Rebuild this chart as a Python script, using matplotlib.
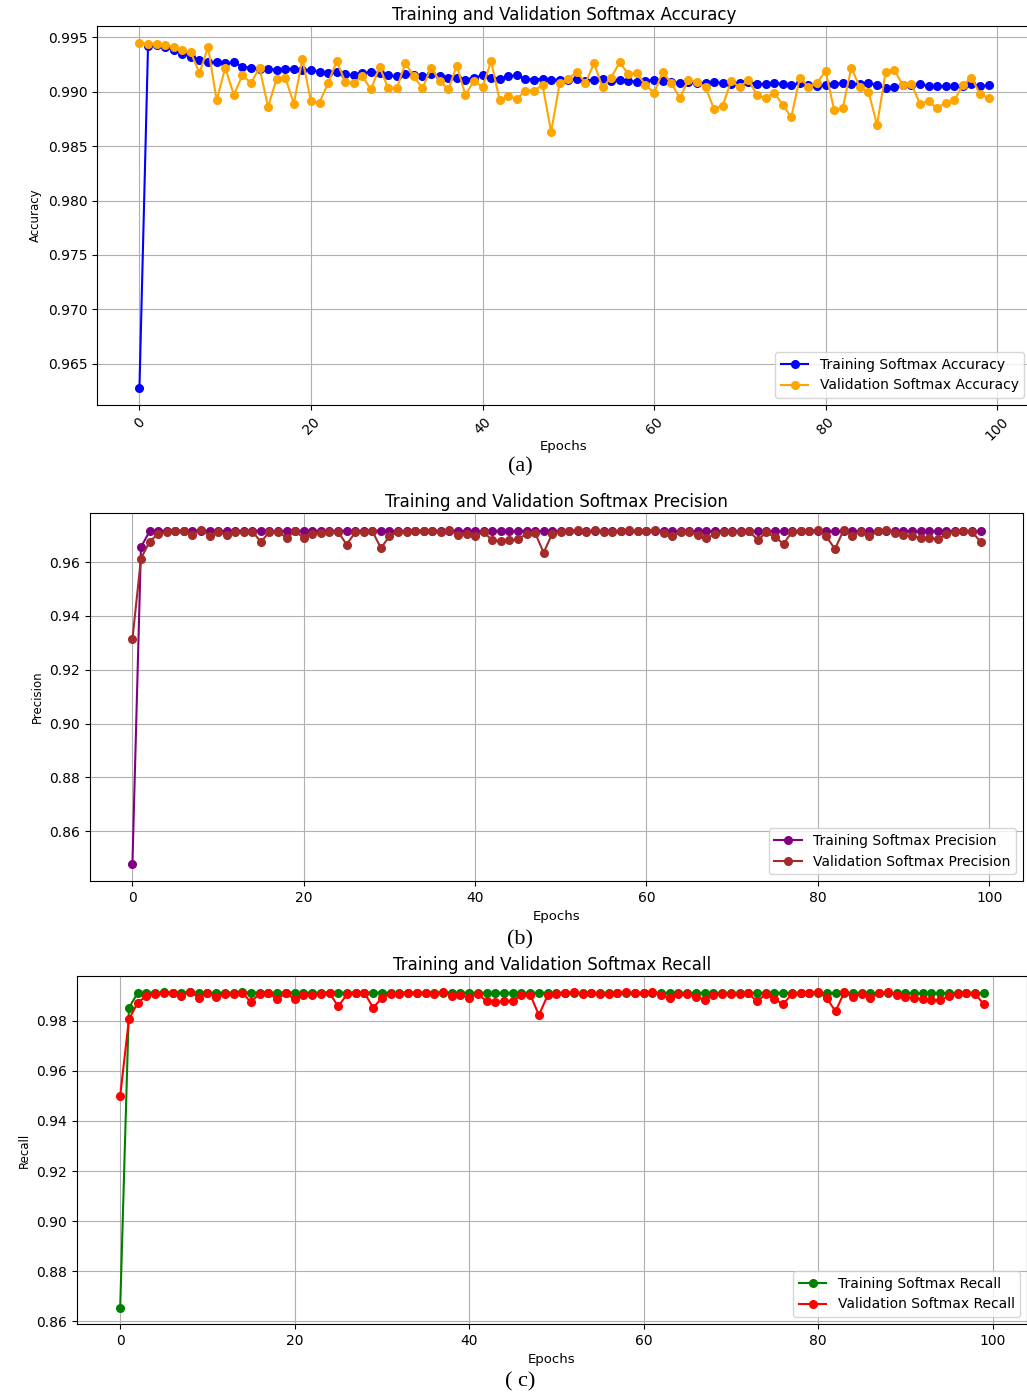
import numpy as np
import matplotlib
matplotlib.use("Agg")
import matplotlib.pyplot as plt

plt.rcParams.update({
    "font.family": "DejaVu Sans",
    "font.size": 10,
})

epochs = np.arange(100)

# Accuracy (a)
train_acc = [
    0.9628, 0.9942, 0.9943, 0.9941, 0.9938, 0.9935, 0.9932, 0.9929, 0.9927, 0.9927,
    0.9926, 0.9927, 0.9923, 0.9922, 0.9921, 0.9921, 0.9920, 0.9921, 0.9921, 0.9920,
    0.9920, 0.9918, 0.9917, 0.9918, 0.9916, 0.9915, 0.9917, 0.9918, 0.9917, 0.9915,
    0.9914, 0.9916, 0.9915, 0.9914, 0.9916, 0.9914, 0.9913, 0.9913, 0.9911, 0.9913,
    0.9915, 0.9913, 0.9912, 0.9914, 0.9915, 0.9912, 0.9911, 0.9912, 0.9911, 0.9911,
    0.9911, 0.9912, 0.9910, 0.9911, 0.9912, 0.9910, 0.9911, 0.9910, 0.9909, 0.9910,
    0.9911, 0.9910, 0.9909, 0.9908, 0.9909, 0.9908, 0.9908, 0.9909, 0.9908, 0.9907,
    0.9908, 0.9909, 0.9907, 0.9907, 0.9908, 0.9907, 0.9906, 0.9908, 0.9906, 0.9905,
    0.9906, 0.9907, 0.9908, 0.9907, 0.9907, 0.9908, 0.9906, 0.9903, 0.9904, 0.9906,
    0.9906, 0.9907, 0.9905, 0.9905, 0.9905, 0.9905, 0.9905, 0.9907, 0.9905, 0.9906,
]
val_acc = [
    0.99445, 0.9944, 0.9944, 0.9943, 0.9941, 0.9938, 0.9936, 0.9917, 0.9941, 0.9892,
    0.9922, 0.9897, 0.9915, 0.9908, 0.9922, 0.9886, 0.9912, 0.9913, 0.9889, 0.9930,
    0.9891, 0.9890, 0.9908, 0.9928, 0.9909, 0.9908, 0.9914, 0.9902, 0.9923, 0.9903,
    0.9903, 0.9926, 0.9914, 0.9903, 0.9922, 0.9910, 0.9902, 0.9924, 0.9897, 0.9910,
    0.9904, 0.9928, 0.9892, 0.9896, 0.9893, 0.9901, 0.9901, 0.9906, 0.9863, 0.9908,
    0.9912, 0.9918, 0.9908, 0.9926, 0.9904, 0.9913, 0.9927, 0.9916, 0.9917, 0.9906,
    0.9899, 0.9918, 0.9908, 0.9894, 0.9911, 0.9909, 0.9904, 0.9884, 0.9887, 0.9910,
    0.9904, 0.9911, 0.9897, 0.9894, 0.9899, 0.9888, 0.98765, 0.9913, 0.9904, 0.9908,
    0.9919, 0.9883, 0.9885, 0.9922, 0.9904, 0.9900, 0.98694, 0.9918, 0.9920, 0.9906,
    0.9907, 0.9889, 0.9891, 0.9885, 0.9890, 0.9892, 0.9906, 0.9913, 0.9898, 0.9894,
]

# Precision (b)
train_prec = [
    0.8477, 0.9655, 0.9714, 0.9716, 0.9716, 0.9717, 0.9716, 0.9716, 0.9717, 0.9716,
    0.9716, 0.9715, 0.9716, 0.9716, 0.9717, 0.9716, 0.9716, 0.9715, 0.9716, 0.9716,
    0.9716, 0.9716, 0.9715, 0.9716, 0.9716, 0.9716, 0.9715, 0.9716, 0.9716, 0.9716,
    0.9716, 0.9715, 0.9716, 0.9716, 0.9716, 0.9715, 0.9716, 0.9716, 0.9716, 0.9715,
    0.9716, 0.9715, 0.9715, 0.9716, 0.9715, 0.9715, 0.9716, 0.9715, 0.9715, 0.9715,
    0.9715, 0.9716, 0.9715, 0.9715, 0.9715, 0.9716, 0.9715, 0.9715, 0.9715, 0.9715,
    0.9715, 0.9716, 0.9715, 0.9715, 0.9715, 0.9715, 0.9714, 0.9715, 0.9715, 0.9715,
    0.9715, 0.9715, 0.9714, 0.9715, 0.9715, 0.9715, 0.9714, 0.9715, 0.9715, 0.9715,
    0.9715, 0.9714, 0.9715, 0.9715, 0.9714, 0.9715, 0.9714, 0.9714, 0.9715, 0.9714,
    0.9714, 0.9714, 0.9714, 0.9714, 0.9714, 0.9714, 0.9714, 0.9715, 0.9714, 0.9714,
]
val_prec = [
    0.9313, 0.9613, 0.9675, 0.9705, 0.9712, 0.9714, 0.9716, 0.9702, 0.9720, 0.9698,
    0.9712, 0.9700, 0.9710, 0.9711, 0.9713, 0.9675, 0.9712, 0.9713, 0.9690, 0.9714,
    0.9690, 0.9705, 0.9708, 0.9712, 0.9713, 0.9665, 0.9710, 0.9713, 0.9715, 0.9652,
    0.9695, 0.9712, 0.9713, 0.9714, 0.9716, 0.9715, 0.9713, 0.9720, 0.9700, 0.9705,
    0.9696, 0.9712, 0.9680, 0.9678, 0.9680, 0.9684, 0.9705, 0.9708, 0.9635, 0.9705,
    0.9712, 0.9714, 0.9720, 0.9712, 0.9718, 0.9713, 0.9710, 0.9716, 0.9718, 0.9714,
    0.9716, 0.9720, 0.9708, 0.9695, 0.9710, 0.9712, 0.9700, 0.9688, 0.9705, 0.9710,
    0.9712, 0.9710, 0.9714, 0.9682, 0.9710, 0.9692, 0.9668, 0.9712, 0.9714, 0.9716,
    0.9720, 0.9695, 0.9648, 0.9718, 0.9698, 0.9712, 0.9696, 0.9714, 0.9718, 0.9708,
    0.9700, 0.9696, 0.9690, 0.9688, 0.9685, 0.9704, 0.9712, 0.9716, 0.9712, 0.9675,
]

# Recall (c)
train_rec = [
    0.8652, 0.9852, 0.9911, 0.9913, 0.9913, 0.9914, 0.9913, 0.9913, 0.9914, 0.9913,
    0.9913, 0.9912, 0.9913, 0.9913, 0.9914, 0.9913, 0.9913, 0.9912, 0.9913, 0.9913,
    0.9913, 0.9913, 0.9912, 0.9913, 0.9913, 0.9913, 0.9912, 0.9913, 0.9913, 0.9913,
    0.9913, 0.9912, 0.9913, 0.9913, 0.9913, 0.9912, 0.9913, 0.9913, 0.9913, 0.9912,
    0.9913, 0.9912, 0.9912, 0.9913, 0.9912, 0.9912, 0.9913, 0.9912, 0.9912, 0.9912,
    0.9912, 0.9913, 0.9912, 0.9912, 0.9912, 0.9913, 0.9912, 0.9912, 0.9912, 0.9912,
    0.9912, 0.9913, 0.9912, 0.9912, 0.9912, 0.9912, 0.9911, 0.9912, 0.9912, 0.9912,
    0.9912, 0.9912, 0.9911, 0.9912, 0.9912, 0.9912, 0.9911, 0.9912, 0.9912, 0.9912,
    0.9912, 0.9911, 0.9912, 0.9912, 0.9911, 0.9912, 0.9911, 0.9911, 0.9912, 0.9911,
    0.9911, 0.9911, 0.9911, 0.9911, 0.9911, 0.9911, 0.9911, 0.9912, 0.9911, 0.9911,
]
val_rec = [
    0.9500, 0.9806, 0.9872, 0.9900, 0.9908, 0.9910, 0.9912, 0.9900, 0.9916, 0.9893,
    0.9910, 0.9896, 0.9906, 0.9908, 0.9910, 0.9876, 0.9909, 0.9910, 0.9888, 0.9911,
    0.9886, 0.9902, 0.9905, 0.9909, 0.9910, 0.9858, 0.9906, 0.9910, 0.9912, 0.9852,
    0.9892, 0.9908, 0.9909, 0.9910, 0.9912, 0.9911, 0.9909, 0.9916, 0.9898, 0.9902,
    0.9892, 0.9908, 0.9878, 0.9876, 0.9878, 0.9881, 0.9902, 0.9905, 0.9823, 0.9902,
    0.9908, 0.9910, 0.9915, 0.9908, 0.9913, 0.9909, 0.9906, 0.9912, 0.9914, 0.9910,
    0.9912, 0.9915, 0.9904, 0.9890, 0.9906, 0.9908, 0.9896, 0.9885, 0.9902, 0.9906,
    0.9908, 0.9906, 0.9910, 0.9878, 0.9906, 0.9888, 0.9866, 0.9908, 0.9910, 0.9912,
    0.9916, 0.9890, 0.9838, 0.9914, 0.9894, 0.9908, 0.9892, 0.9910, 0.9914, 0.9904,
    0.9896, 0.9892, 0.9886, 0.9884, 0.9882, 0.9900, 0.9908, 0.9912, 0.9908, 0.9866,
]

W, H = 1027, 1396
fig = plt.figure(figsize=(W / 100, H / 100), dpi=100)


def px_axes(left, top, right, bottom):
    return fig.add_axes([left / W, 1 - bottom / H, (right - left) / W, (bottom - top) / H])


panels = [
    # box, train, val, colours, metric, caption, caption y
    ((97, 26, 1031, 405), train_acc, val_acc, ("blue", "orange"), "Accuracy", "(a)", 467),
    ((90, 513, 1023, 881), train_prec, val_prec, ("purple", "brown"), "Precision", "(b)", 940),
    ((77, 976, 1027, 1324), train_rec, val_rec, ("green", "red"), "Recall", "( c)", 1382),
]

for i, (box, tr, va, cols, metric, cap, cap_y) in enumerate(panels):
    ax = px_axes(*box)
    ax.plot(epochs, tr, marker="o", markersize=5.5, lw=1.5, color=cols[0],
            label=f"Training Softmax {metric}")
    ax.plot(epochs, va, marker="o", markersize=5.5, lw=1.5, color=cols[1],
            label=f"Validation Softmax {metric}")
    ax.set_title(f"Training and Validation Softmax {metric}", fontsize=12, pad=4)
    ax.set_ylabel(metric, fontsize=8.5)
    ax.grid(True)
    ax.legend(loc="lower right", fontsize=10)
    if i == 0:
        ax.tick_params(axis="x", labelrotation=45)
        ax.set_yticks([0.965, 0.970, 0.975, 0.980, 0.985, 0.990, 0.995])
        ax.set_xlabel("Epochs", fontsize=9.5, labelpad=-2)
    else:
        ax.set_xlabel("Epochs", fontsize=9.5)
    fig.text(520 / W, 1 - cap_y / H, cap, ha="center", va="center",
             fontsize=16, family="Liberation Serif")

fig.savefig("out.png", dpi=100)
